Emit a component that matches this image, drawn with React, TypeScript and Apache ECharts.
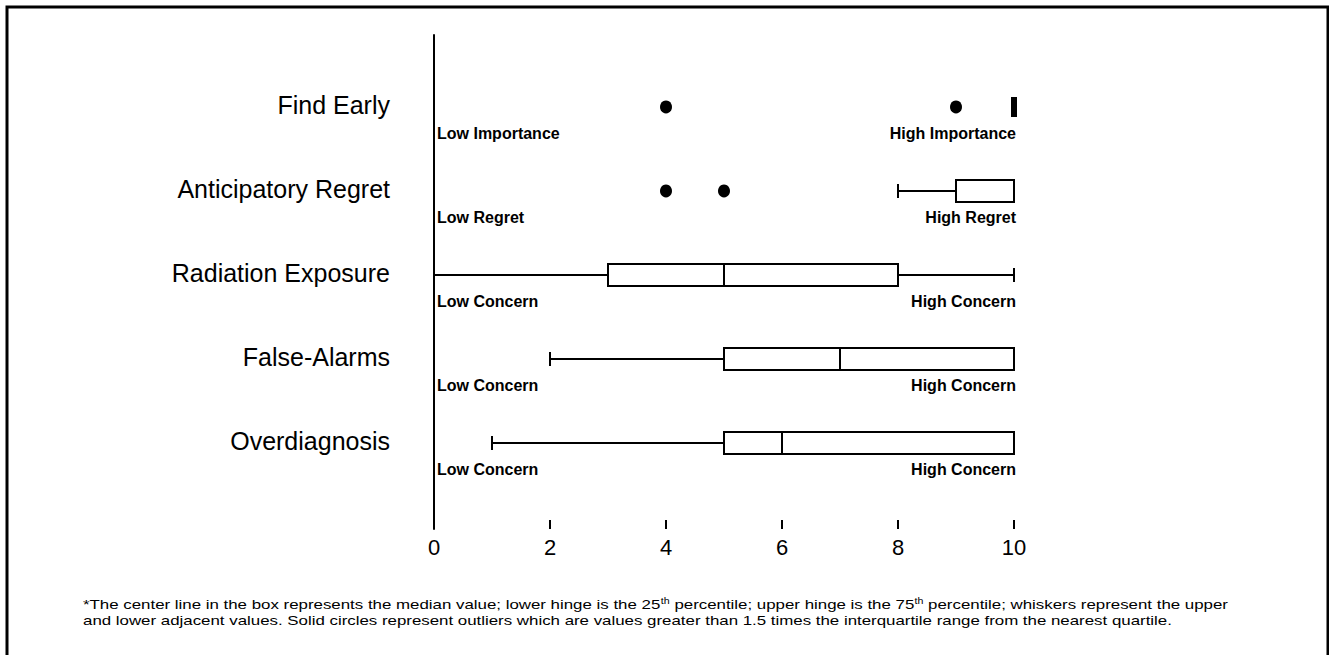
import React, { useEffect, useRef } from "react";
import * as echarts from "echarts";

const categories = ["Find Early", "Anticipatory Regret", "Radiation Exposure", "False-Alarms", "Overdiagnosis"];
const lowLabels = ["Low Importance", "Low Regret", "Low Concern", "Low Concern", "Low Concern"];
const highLabels = ["High Importance", "High Regret", "High Concern", "High Concern", "High Concern"];
const whiskerLow = [10, 8, 0, 2, 1];
const q1 = [10, 9, 3, 5, 5];
const median = [10, 10, 5, 7, 6];
const q3 = [10, 10, 8, 10, 10];
const whiskerHigh = [10, 10, 10, 10, 10];
const outliers: number[][] = [[4, 9], [4, 5], [], [], []];
const xTicks = [0, 2, 4, 6, 8, 10];

const FONT = "Arial, 'Liberation Sans', Helvetica, sans-serif";

export default function App() {
  const ref = useRef<HTMLDivElement>(null);
  useEffect(() => {
    if (!ref.current) return;
    const chart = echarts.init(ref.current, undefined, { renderer: "svg" });
    const boxData = categories.map((_, i) => [i, whiskerLow[i], q1[i], median[i], q3[i], whiskerHigh[i]]);
    const outlierData: number[][] = [];
    outliers.forEach((list, i) => list.forEach((v) => outlierData.push([v, i])));

    const renderItem = (params: any, api: any) => {
      const row = api.value(0);
      const idx = params.dataIndex;
      const pMin = api.coord([api.value(1), row]);
      const pQ1 = api.coord([api.value(2), row]);
      const pMed = api.coord([api.value(3), row]);
      const pQ3 = api.coord([api.value(4), row]);
      const pMax = api.coord([api.value(5), row]);
      const pZero = api.coord([xTicks[0], row]);
      const pTen = api.coord([xTicks[xTicks.length - 1], row]);
      const y = pMed[1];
      const half = 11;
      const cap = 7;
      const ls = { stroke: "#000", lineWidth: 2, fill: "none" };
      const children: any[] = [];
      if (pMin[0] < pQ1[0]) {
        children.push({ type: "line", shape: { x1: pMin[0], y1: y, x2: pQ1[0], y2: y }, style: ls });
        children.push({ type: "line", shape: { x1: pMin[0], y1: y - cap, x2: pMin[0], y2: y + cap }, style: ls });
      }
      if (pMax[0] > pQ3[0]) {
        children.push({ type: "line", shape: { x1: pQ3[0], y1: y, x2: pMax[0], y2: y }, style: ls });
        children.push({ type: "line", shape: { x1: pMax[0], y1: y - cap, x2: pMax[0], y2: y + cap }, style: ls });
      }
      if (pQ3[0] - pQ1[0] < 1) {
        children.push({ type: "rect", shape: { x: pQ1[0] - 3, y: y - half + 1, width: 6, height: 2 * half - 2 }, style: { fill: "#000" } });
      } else {
        children.push({ type: "rect", shape: { x: pQ1[0], y: y - half, width: pQ3[0] - pQ1[0], height: 2 * half }, style: { stroke: "#000", lineWidth: 2, fill: "#fff" } });
        children.push({ type: "line", shape: { x1: pMed[0], y1: y - half, x2: pMed[0], y2: y + half }, style: ls });
      }
      children.push({ type: "text", style: { text: categories[idx], x: pZero[0] - 44, y: y - 2, align: "right", verticalAlign: "middle", fontSize: 25, fontFamily: FONT, fill: "#000" } });
      children.push({ type: "text", style: { text: lowLabels[idx], x: pZero[0] + 3, y: y + 27, align: "left", verticalAlign: "middle", fontSize: 16, fontWeight: "bold", fontFamily: FONT, fill: "#000" } });
      children.push({ type: "text", style: { text: highLabels[idx], x: pTen[0] + 2, y: y + 27, align: "right", verticalAlign: "middle", fontSize: 16, fontWeight: "bold", fontFamily: FONT, fill: "#000" } });
      return { type: "group", children };
    };

    const footnote =
      "*The center line in the box represents the median value; lower hinge is the 25{sup|th} percentile; upper hinge is the 75{sup|th} percentile; whiskers represent the upper\nand lower adjacent values. Solid circles represent outliers which are values greater than 1.5 times the interquartile range from the nearest quartile.";

    chart.setOption({
      animation: false,
      backgroundColor: "#fff",
      grid: { left: 434, right: 315, top: 35, bottom: 126, containLabel: false },
      xAxis: {
        type: "value",
        min: 0,
        max: 10,
        interval: 2,
        axisLine: { show: false, onZero: false },
        axisTick: { show: true, inside: true, length: 9, lineStyle: { color: "#000", width: 2 } },
        axisLabel: { color: "#000", fontSize: 22, fontFamily: FONT, margin: 7 },
        splitLine: { show: false },
      },
      yAxis: {
        type: "value",
        inverse: true,
        min: -0.857,
        max: 5.024,
        axisLine: { show: true, onZero: false, lineStyle: { color: "#000", width: 2 } },
        axisTick: { show: false },
        axisLabel: { show: false },
        splitLine: { show: false },
      },
      series: [
        {
          type: "custom",
          renderItem,
          data: boxData,
          encode: { x: [1, 2, 3, 4, 5], y: 0 },
          clip: false,
          z: 2,
        },
        {
          type: "scatter",
          data: outlierData,
          symbol: "circle",
          symbolSize: [12, 13],
          itemStyle: { color: "#000", opacity: 1 },
          z: 3,
        },
      ],
      graphic: [
        {
          type: "rect",
          shape: { x: 7, y: 7, width: 1321, height: 700 },
          style: { fill: "none", stroke: "#000", lineWidth: 3 },
          silent: true,
        },
        {
          type: "text",
          x: 83,
          y: 596,
          scaleX: 1.25,
          style: {
            text: footnote,
            fontSize: 13.5,
            lineHeight: 16,
            fontFamily: FONT,
            fill: "#000",
            rich: {
              sup: { fontSize: 8.5, verticalAlign: "top", lineHeight: 16, fontFamily: FONT, fill: "#000" },
            },
          },
        },
      ],
    });
    return () => chart.dispose();
  }, []);
  return <div ref={ref} style={{ position: "fixed", left: 0, top: 0, width: 1329, height: 655 }} />;
}
